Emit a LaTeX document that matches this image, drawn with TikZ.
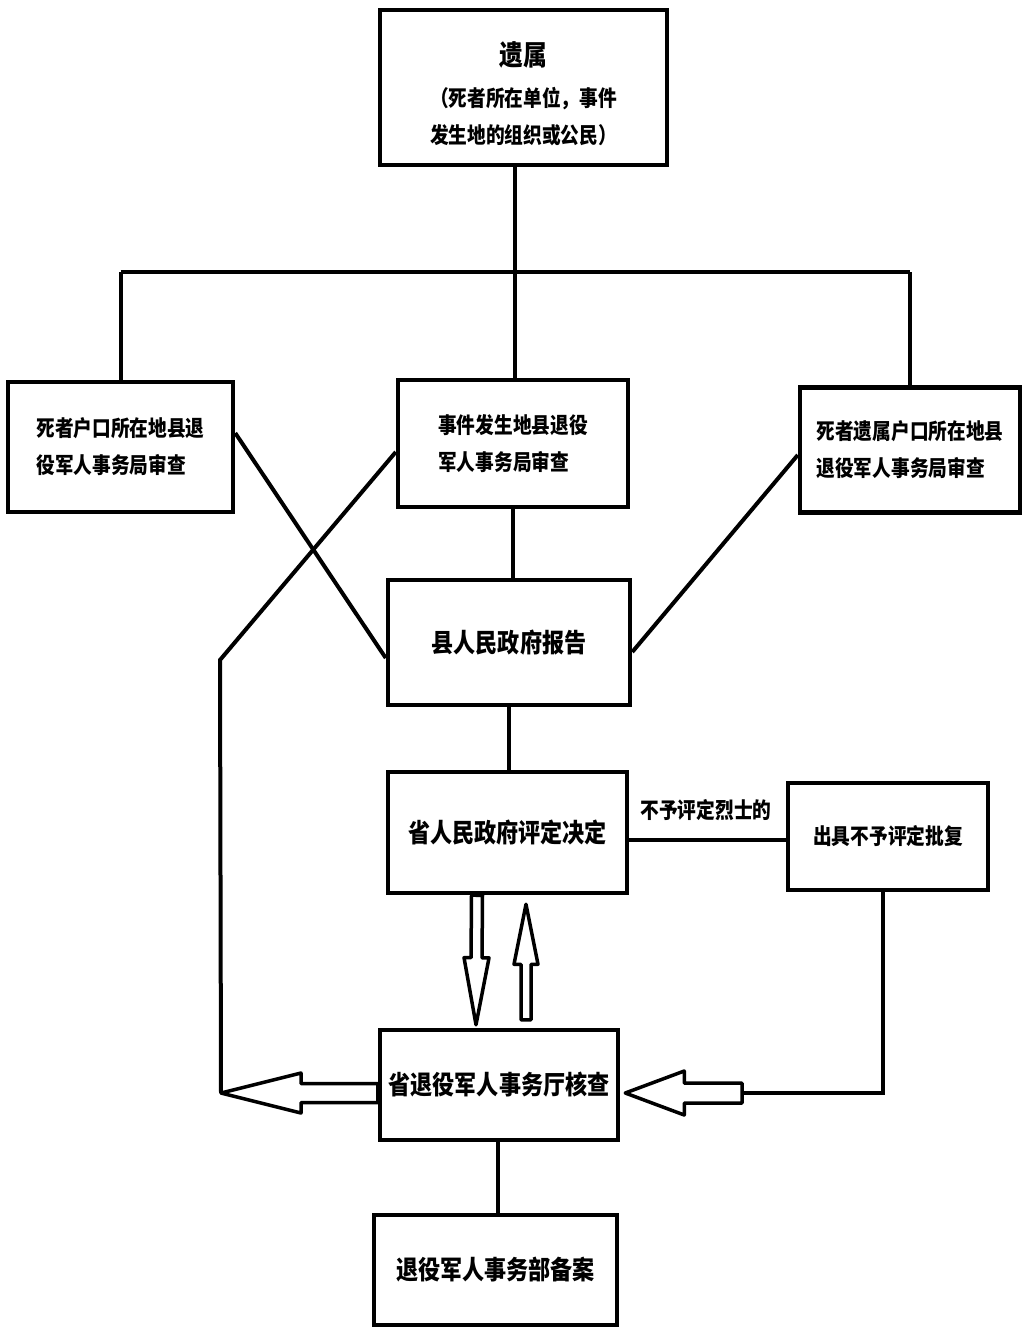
\documentclass[tikz,border=0pt]{standalone}
\usepackage{fontspec}
\newfontfamily\cjk[FakeStretch=0.85]{Noto Sans CJK SC}
\usetikzlibrary{calc,positioning}

% hollow block arrow: tail, tip, head length, head half width, shaft half width
\newcommand{\hollowarrow}[5]{%
  \coordinate (hb) at ($(#2)!#3!(#1)$);
  \draw[hollow] ($(#1)!#5!90:(#2)$) -- ($(hb)!#5!90:(#2)$) -- ($(hb)!#4!90:(#2)$) -- (#2)
    -- ($(hb)!#4!-90:(#2)$) -- ($(hb)!#5!-90:(#2)$) -- ($(#1)!#5!-90:(#2)$) -- cycle;
}

\begin{document}
\begin{tikzpicture}[
    x=1pt, y=-1pt,
    box/.style={draw, line width=4.5pt, inner sep=0pt, align=left,
      font=\cjk\bfseries\fontsize{22}{37}\selectfont},
    big/.style={font=\cjk\bfseries\fontsize{26}{30}\selectfont},
    conn/.style={line width=4pt},
    hollow/.style={draw, line width=3.5pt, fill=white, line join=round}
]

% FIXED BOUNDING BOX
\useasboundingbox (0,0) rectangle (1023,1327);

\node[box, minimum width=287pt, minimum height=155pt] (A) at (523.5,87.5) {};
\node[font=\cjk\bfseries\fontsize{22}{37}\selectfont, align=center] (A text) at ([yshift=-6pt]A.center)
  {{\fontsize{28}{30}\selectfont 遗属}\\[4pt]（死者所在单位，事件\\发生地的组织或公民）};
\node[box, minimum width=225pt, minimum height=130pt] (B) at (120.5,447) {死者户口所在地县退\\役军人事务局审查};
\node[box, minimum width=230pt, minimum height=127pt] (C) at (513,443.5) {事件发生地县退役\\军人事务局审查};
\node[box, minimum width=220pt, minimum height=125pt] (D) at (910,450) {死者遗属户口所在地县\\退役军人事务局审查};
\node[box, big, minimum width=242pt, minimum height=125pt] (E) at (509,642.5) {县人民政府报告};
\node[box, big, minimum width=239pt, minimum height=121pt] (F) at (507.5,832.5) {省人民政府评定决定};
\node[box, minimum width=200pt, minimum height=107pt] (G) at (888,836.5) {出具不予评定批复};
\node[box, big, minimum width=238pt, minimum height=110pt] (H) at (499,1085) {省退役军人事务厅核查};
\node[box, big, minimum width=243pt, minimum height=110pt] (I) at (495.5,1270) {退役军人事务部备案};
\node[font=\cjk\bfseries\fontsize{22}{26}\selectfont] (lbl) at (706,810) {不予评定烈士的};

% junctions and arrow ends
\coordinate (bus) at (515,272);
\coordinate (lt) at (221,1093);
\coordinate (rt) at (742,1093);
\coordinate (rc) at (883,1093);
\coordinate (lt tail) at ([yshift=-8pt]H.west);
\coordinate (rt tip) at ([xshift=5pt,yshift=-8pt]H.east);
\coordinate (dn tail) at ([xshift=-30.5pt]F.south);
\coordinate (dn tip) at ([xshift=-23pt,yshift=3pt]H.north);
\coordinate (up tail) at ([xshift=27pt,yshift=8pt]H.north);
\coordinate (up tip) at ([xshift=18.5pt,yshift=-9pt]F.south);

\draw[conn] (A.south -| bus) -- (bus);
\draw[conn] (B.north |- bus) -- (D.north |- bus);
\draw[conn] (B.north |- bus) -- (B.north);
\draw[conn] (bus) -- (bus |- C.north);
\draw[conn] (D.north |- bus) -- (D.north);

\draw[conn] (C.south) -- (C.south |- E.north);
\draw[conn] ([yshift=14pt]B.east) -- ([yshift=-15.5pt]E.west);
\draw[conn] ([yshift=-8.5pt]C.west) -- (220,660) -- (lt);
\draw[conn] ([yshift=-5pt]D.west) -- ([yshift=-9.5pt]E.east);
\draw[conn] (E.south) -- (E.south |- F.north);
\draw[conn] ([yshift=-7.5pt]F.east) -- ([yshift=-7.5pt]F.east -| G.west);
\draw[conn] (G.south -| rc) -- (rc) -- (rt);
\draw[conn] (H.south -| 498,0) -- (I.north -| 498,0);

\hollowarrow{lt tail}{lt}{80pt}{20pt}{9.5pt}
\hollowarrow{rt}{rt tip}{59pt}{22pt}{10pt}
\hollowarrow{dn tail}{dn tip}{67pt}{12.5pt}{5.5pt}
\hollowarrow{up tail}{up tip}{60pt}{12pt}{5pt}

\end{tikzpicture}
\end{document}
